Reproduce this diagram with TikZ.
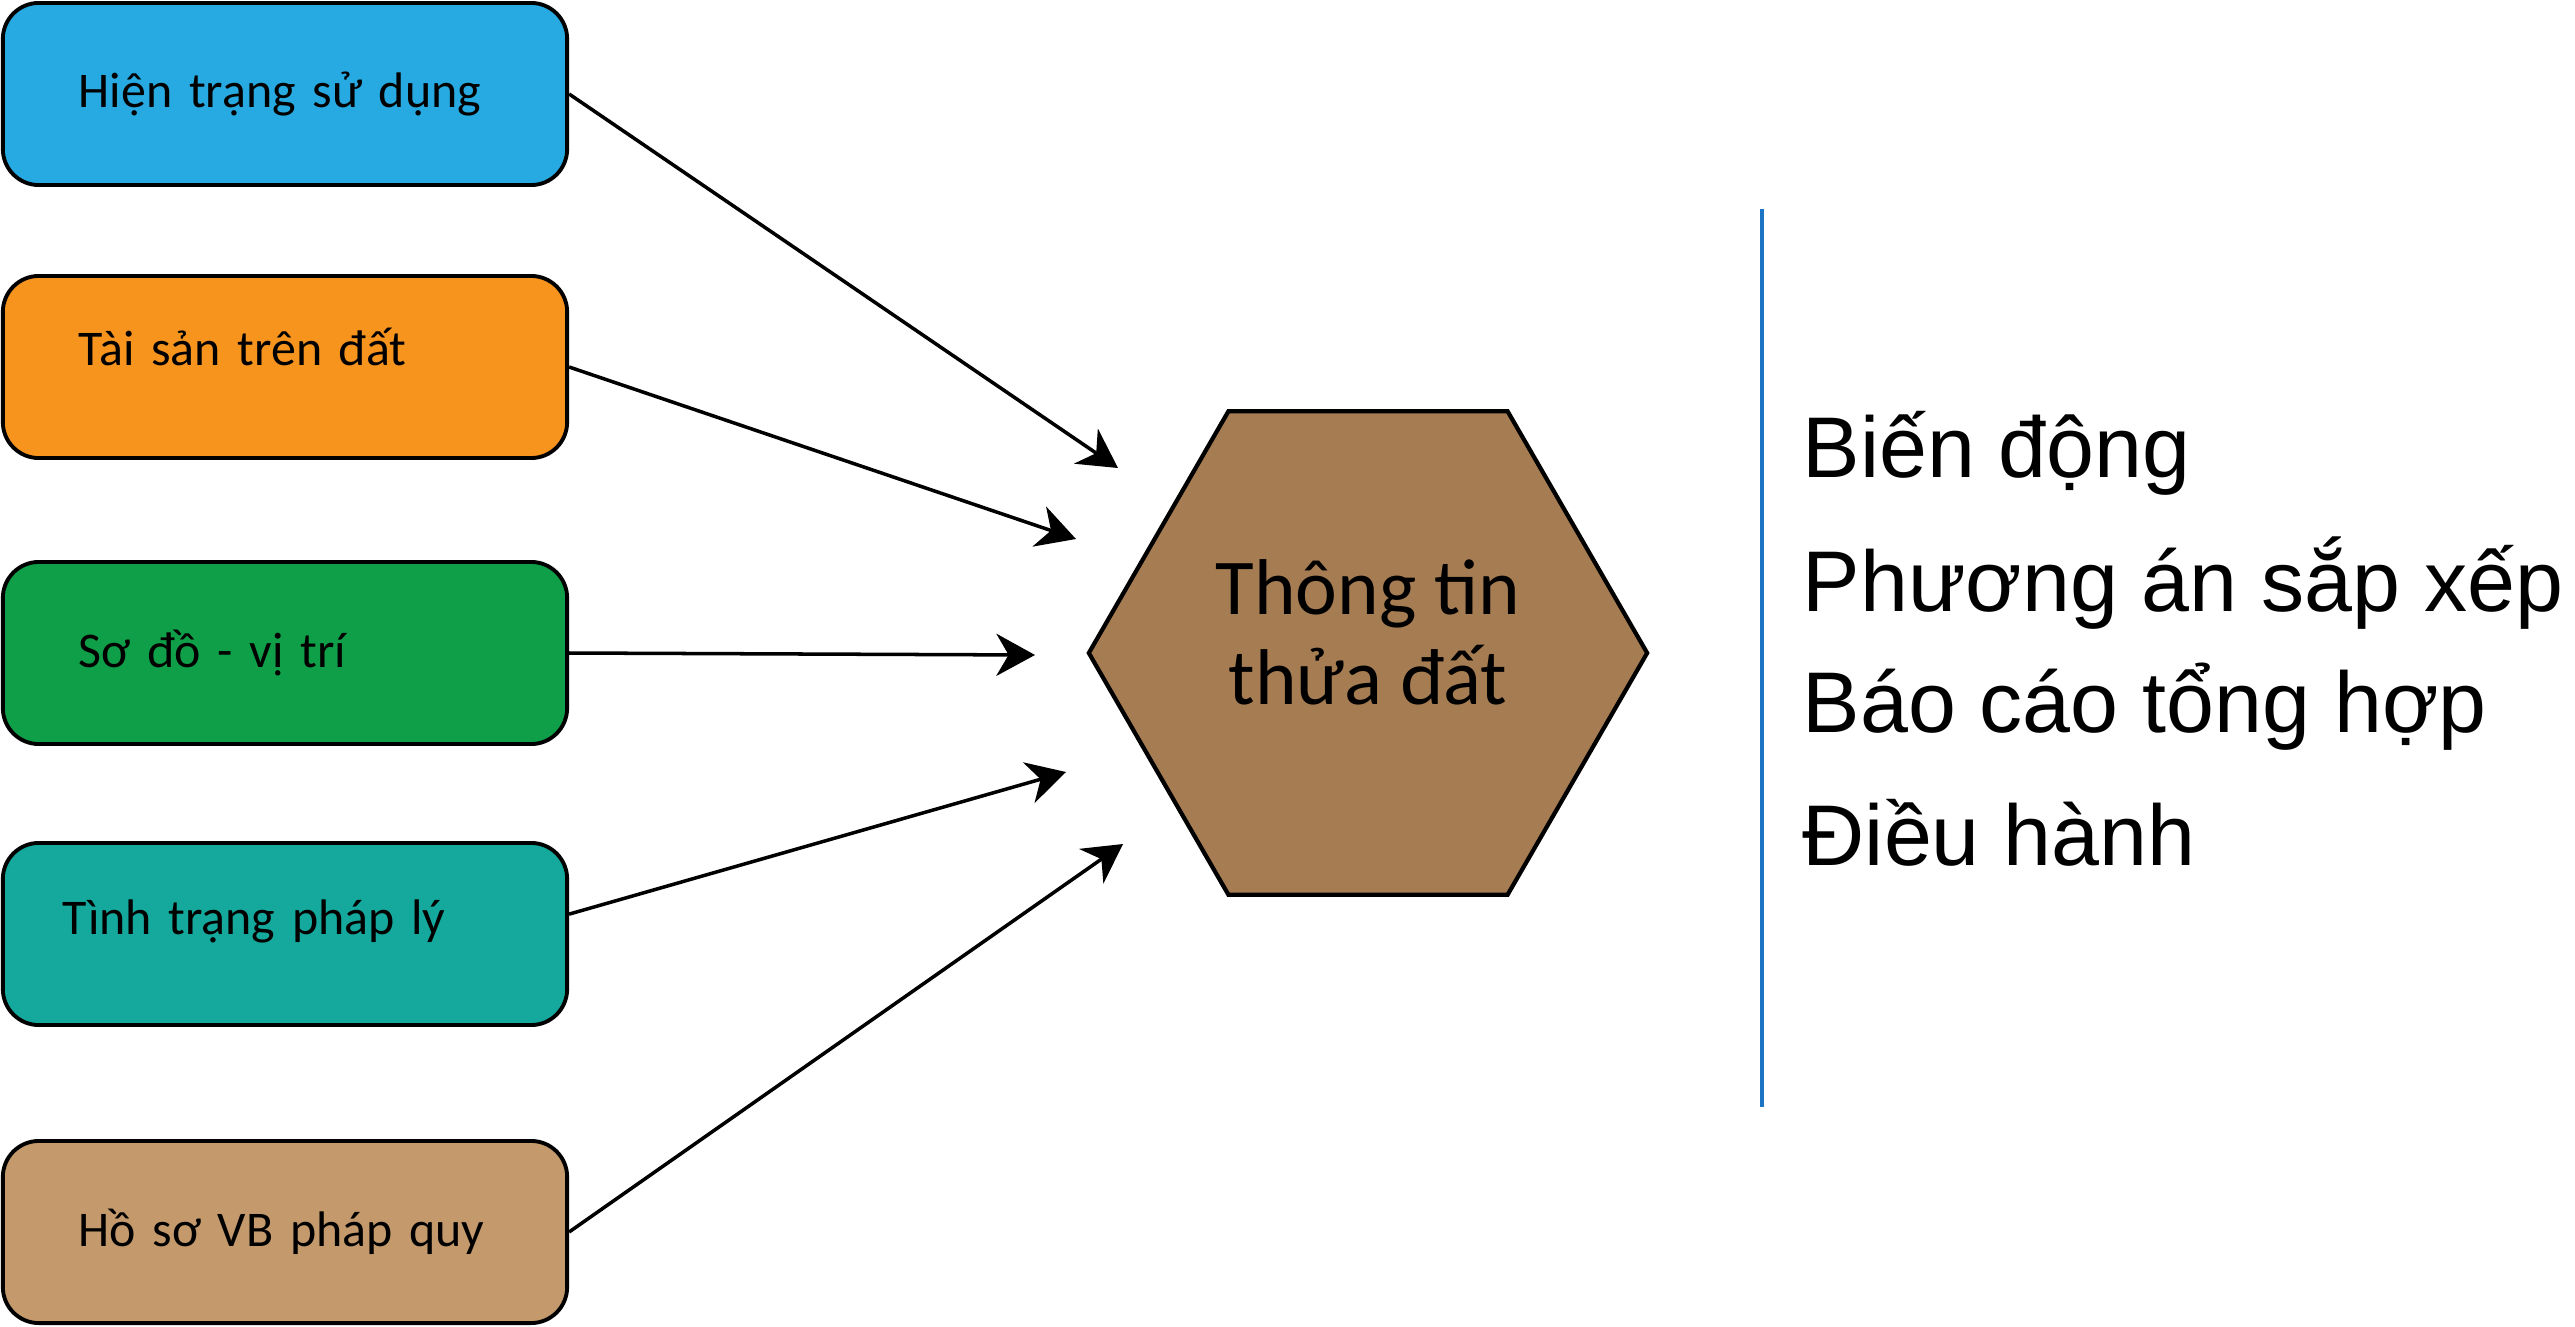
\documentclass[tikz,border=0pt]{standalone}
\usepackage{fontspec}
\setmainfont{Carlito}
\newfontfamily\arialfont{Liberation Sans}
\usetikzlibrary{shapes.geometric,arrows.meta}

\definecolor{boxblue}{HTML}{27AAE1}
\definecolor{boxorange}{HTML}{F7941E}
\definecolor{boxgreen}{HTML}{0E9F48}
\definecolor{boxteal}{HTML}{15A99D}
\definecolor{boxtan}{HTML}{C49A6C}
\definecolor{hexbrown}{HTML}{A67C52}
\definecolor{sepblue}{HTML}{1B75C4}

\begin{document}
\begin{tikzpicture}[x=0.01cm,y=-0.01cm]
	\useasboundingbox (0,0) rectangle (2575,1327);
	\begin{scope}[every node/.style={rectangle,rounded corners=0.36cm,draw,line width=1.1pt,
			minimum width=5.64cm,minimum height=1.82cm,text width=4.88cm,inner xsep=0.38cm,align=left,
			font=\fontsize{14.2}{17}\selectfont,execute at begin node={\hspace*{0.38cm}}}]
		\node[fill=boxblue] (A) at (285,94) {\raisebox{0.06cm}{Hiện trạng sử dụng}};
		\node[fill=boxorange] (B) at (285,367) {\raisebox{0.4cm}{Tài sản trên đất}};
		\node[fill=boxgreen] (C) at (285,653) {\raisebox{-0.3cm}{Sơ đồ - vị trí}};
		\node[fill=boxteal] (D) at (285,934) {\hspace*{-0.16cm}\raisebox{0.34cm}{Tình trạng pháp lý}};
		\node[fill=boxtan] (E) at (285,1232) {Hồ sơ VB pháp quy};
	\end{scope}

	\node[regular polygon,regular polygon sides=6,minimum size=5.58cm,draw,line width=1.2pt,
		fill=hexbrown,align=center,text depth=0.42cm,font=\fontsize{22.5}{25.5}\selectfont] (H) at (1368,653) {Thông tin\\thửa đất};

	\coordinate (a1) at (1118,468);
	\coordinate (a2) at (1076,539);
	\coordinate (a3) at (1035,655);
	\coordinate (a4) at (1066,772);
	\coordinate (a5) at (1123,844);
	\begin{scope}[every edge/.style={draw,line width=1pt,-{Stealth[length=11pt,width=12pt,inset=3.5pt]}}]
		\path (A.east) edge (a1);
		\path (B.east) edge (a2);
		\path (C.east) edge (a3);
		\path (D.4) edge (a4);
		\path (E.east) edge (a5);
	\end{scope}

	\coordinate (L1) at (1762,209);
	\coordinate (L2) at (1762,1107);
	\draw[sepblue,line width=1.2pt] (L1) -- (L2);

	\begin{scope}[every node/.style={anchor=base west,inner sep=0pt,font=\arialfont\fontsize{24.5}{30}\selectfont}]
		\node (r1) at (1802,477) {Biến động};
		\node (r2) at (1802,611) {Phương án sắp xếp};
		\node (r3) at (1802,732) {Báo cáo tổng hợp};
		\node (r4) at (1802,865) {Điều hành};
	\end{scope}
\end{tikzpicture}
\end{document}
